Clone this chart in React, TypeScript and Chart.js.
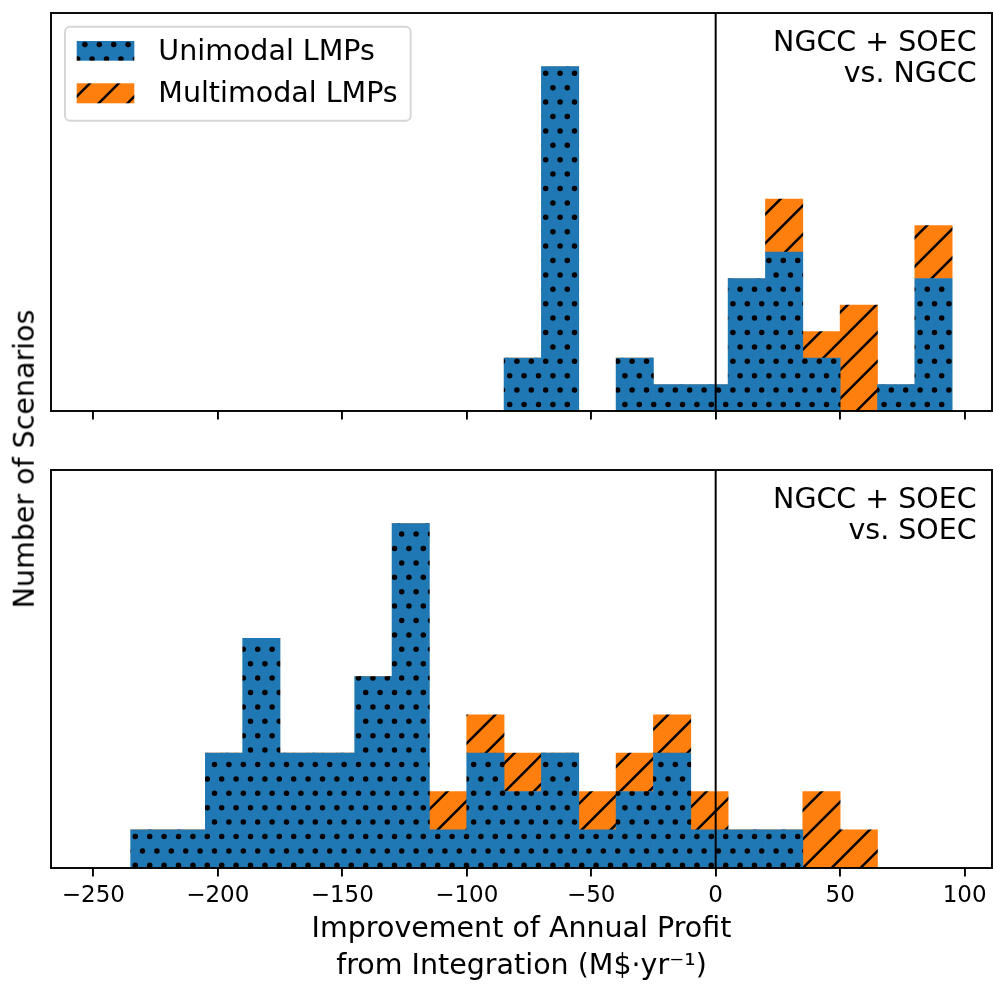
import React, { useEffect, useRef } from "react";
import { Chart, registerables } from "chart.js";

Chart.register(...registerables);

// ---- data ----
const BIN_STARTS = [-235, -220, -205, -190, -175, -160, -145, -130, -115, -100, -85, -70, -55, -40, -25, -10, 5, 20, 35, 50, 65, 80];
const BIN_WIDTH = 15;
const TOP_UNIMODAL = [0, 0, 0, 0, 0, 0, 0, 0, 0, 0, 2, 13, 0, 2, 1, 1, 5, 6, 2, 0, 1, 5];
const TOP_MULTIMODAL = [0, 0, 0, 0, 0, 0, 0, 0, 0, 0, 0, 0, 0, 0, 0, 0, 0, 2, 1, 4, 0, 2];
const BOTTOM_UNIMODAL = [1, 1, 3, 6, 3, 3, 5, 9, 1, 3, 2, 3, 1, 2, 3, 1, 1, 1, 0, 0, 0, 0];
const BOTTOM_MULTIMODAL = [0, 0, 0, 0, 0, 0, 0, 0, 1, 1, 1, 0, 1, 1, 1, 1, 0, 0, 2, 1, 0, 0];
const X_TICKS = [-250, -200, -150, -100, -50, 0, 50, 100];
const X_MIN = -267;
const X_MAX = 111;
const TOP_YMAX = 15.02;
const BOTTOM_YMAX = 10.4;
const SERIES_LABELS = ["Unimodal LMPs", "Multimodal LMPs"];
const TOP_NOTE = ["NGCC + SOEC", "vs. NGCC"];
const BOTTOM_NOTE = ["NGCC + SOEC", "vs. SOEC"];
const X_TITLE = ["Improvement of Annual Profit", "from Integration (M$\u00b7yr\u207b\u00b9)"];
const Y_TITLE = "Number of Scenarios";

// ---- style ----
const FONT = '"DejaVu Sans", "Liberation Sans", sans-serif';
const BLUE = "#1f77b4";
const ORANGE = "#ff7f0e";
const W = 993;

function dotPattern(ctx: CanvasRenderingContext2D, ox: number, oy: number) {
  const T = 144;
  const c = document.createElement("canvas");
  c.width = T;
  c.height = T;
  const g = c.getContext("2d")!;
  g.fillStyle = BLUE;
  g.fillRect(0, 0, T, T);
  g.fillStyle = "#000";
  const sx = 14.4;
  const sy = 28.8;
  const rows = [
    [12.9, 15.7],
    [5.7, 1.3],
  ];
  for (const [bx, by] of rows) {
    const px = (((bx - ox) % sx) + sx) % sx;
    const py = (((by - oy) % sy) + sy) % sy;
    for (let i = -1; i <= 11; i++) {
      for (let j = -1; j <= 6; j++) {
        g.beginPath();
        g.arc(px + i * sx, py + j * sy, 2.75, 0, Math.PI * 2);
        g.fill();
      }
    }
  }
  return ctx.createPattern(c, "repeat")!;
}

function hatchPattern(ctx: CanvasRenderingContext2D, ox: number, oy: number) {
  const T = 144;
  const c = document.createElement("canvas");
  c.width = T;
  c.height = T;
  const g = c.getContext("2d")!;
  g.fillStyle = ORANGE;
  g.fillRect(0, 0, T, T);
  g.strokeStyle = "#000";
  g.lineWidth = 2.5;
  const sp = 28.8;
  const c0 = (((0.4 - ox - oy) % sp) + sp) % sp;
  g.beginPath();
  for (let k = -1; k <= 11; k++) {
    const s = c0 + k * sp;
    g.moveTo(s - 170, 170);
    g.lineTo(s + 20, -20);
  }
  g.stroke();
  return ctx.createPattern(c, "repeat")!;
}

type PanelProps = {
  top: number;
  height: number;
  areaTop: number;
  axisHeight: number;
  unimodal: number[];
  multimodal: number[];
  yMax: number;
  note: string[];
  showLabels: boolean;
  showLegend: boolean;
};

function Panel(p: PanelProps) {
  const ref = useRef<HTMLCanvasElement | null>(null);
  useEffect(() => {
    const canvas = ref.current!;
    const ctx = canvas.getContext("2d")!;
    const dots = dotPattern(ctx, 0, p.top);
    const hatch = hatchPattern(ctx, 0, p.top);

    const overlay = {
      id: "overlay",
      afterDatasetsDraw(chart: any) {
        const { ctx: c, chartArea: a, scales } = chart;
        c.save();
        // zero line
        const x0 = scales.x.getPixelForValue(0);
        c.strokeStyle = "#000";
        c.lineWidth = 2;
        c.beginPath();
        c.moveTo(x0, a.top);
        c.lineTo(x0, a.bottom);
        c.stroke();
        // frame
        c.lineWidth = 1.9;
        c.strokeRect(a.left, a.top, a.right - a.left, a.bottom - a.top);
        // note
        c.fillStyle = "#000";
        c.font = `28.5px ${FONT}`;
        c.textAlign = "right";
        c.textBaseline = "alphabetic";
        c.fillText(p.note[0], 976.7, a.top + 37.7);
        c.fillText(p.note[1], 976.7, a.top + 69.3);
        // legend
        if (p.showLegend) {
          const lx = 65, ly = 26.7, lw = 345.7, lh = 94, r = 5;
          c.beginPath();
          c.moveTo(lx + r, ly);
          c.lineTo(lx + lw - r, ly);
          c.arcTo(lx + lw, ly, lx + lw, ly + r, r);
          c.lineTo(lx + lw, ly + lh - r);
          c.arcTo(lx + lw, ly + lh, lx + lw - r, ly + lh, r);
          c.lineTo(lx + r, ly + lh);
          c.arcTo(lx, ly + lh, lx, ly + lh - r, r);
          c.lineTo(lx, ly + r);
          c.arcTo(lx, ly, lx + r, ly, r);
          c.closePath();
          c.fillStyle = "rgba(255,255,255,0.8)";
          c.fill();
          c.strokeStyle = "#d6d6d6";
          c.lineWidth = 1.9;
          c.stroke();
          c.fillStyle = dots;
          c.fillRect(76.7, 41, 57.6, 19.7);
          c.fillStyle = hatch;
          c.fillRect(76.7, 83.3, 57.6, 20);
          c.fillStyle = "#000";
          c.textAlign = "left";
          c.fillText(SERIES_LABELS[0], 158.3, 60);
          c.fillText(SERIES_LABELS[1], 158.3, 101.7);
        }
        c.restore();
      },
    };

    const chart = new Chart(canvas, {
      type: "bar",
      data: {
        datasets: [
          {
            label: SERIES_LABELS[0],
            data: BIN_STARTS.map((b, i) => ({ x: b + BIN_WIDTH / 2, y: p.unimodal[i] })),
            backgroundColor: dots,
            borderWidth: 0,
            barPercentage: 1,
            categoryPercentage: 1,
          },
          {
            label: SERIES_LABELS[1],
            data: BIN_STARTS.map((b, i) => ({ x: b + BIN_WIDTH / 2, y: p.multimodal[i] })),
            backgroundColor: hatch,
            borderWidth: 0,
            barPercentage: 1,
            categoryPercentage: 1,
          },
        ],
      },
      options: {
        animation: false,
        responsive: false,
        devicePixelRatio: 1,
        events: [],
        layout: { padding: { left: 51, right: 1, top: p.areaTop, bottom: 0 } },
        plugins: {
          legend: { display: false },
          tooltip: { enabled: false },
        },
        scales: {
          x: {
            type: "linear",
            stacked: true,
            min: X_MIN,
            max: X_MAX,
            offset: false,
            afterBuildTicks: (s: any) => {
              s.ticks = X_TICKS.map((v) => ({ value: v }));
            },
            afterFit: (s: any) => {
              s.height = p.axisHeight;
            },
            grid: {
              display: true,
              offset: false,
              drawOnChartArea: false,
              drawTicks: true,
              tickLength: 8.4,
              lineWidth: 1.9,
              color: "#000",
            },
            border: { display: false },
            ticks: {
              display: p.showLabels,
              color: "#000",
              padding: 6,
              maxRotation: 0,
              autoSkip: false,
              font: { family: FONT, size: 23 },
              callback: (v: any) => (v < 0 ? "\u2212" + Math.abs(v) : String(v)),
            },
            title: {
              display: p.showLabels,
              text: X_TITLE,
              color: "#000",
              font: { family: FONT, size: 28.5, lineHeight: 1.288 },
              padding: { top: 0, bottom: 0 },
            },
          },
          y: { display: false, stacked: true, min: 0, max: p.yMax },
        },
      } as any,
      plugins: [overlay],
    });
    return () => chart.destroy();
  }, []);
  return (
    <canvas
      ref={ref}
      width={W}
      height={p.height}
      style={{ position: "absolute", left: 0, top: p.top, width: W, height: p.height, display: "block" }}
    />
  );
}

export default function App() {
  return (
    <div style={{ position: "absolute", left: 0, top: 0, width: W, height: 985, background: "#fff", overflow: "hidden" }}>
      <Panel
        top={0}
        height={440}
        areaTop={13}
        axisHeight={29}
        unimodal={TOP_UNIMODAL}
        multimodal={TOP_MULTIMODAL}
        yMax={TOP_YMAX}
        note={TOP_NOTE}
        showLabels={false}
        showLegend={true}
      />
      <Panel
        top={440}
        height={545}
        areaTop={30}
        axisHeight={117}
        unimodal={BOTTOM_UNIMODAL}
        multimodal={BOTTOM_MULTIMODAL}
        yMax={BOTTOM_YMAX}
        note={BOTTOM_NOTE}
        showLabels={true}
        showLegend={false}
      />
      <div
        style={{
          position: "absolute",
          left: 25,
          top: 459,
          transform: "translate(-50%, -50%) rotate(-90deg)",
          fontFamily: FONT,
          fontSize: "28.5px",
          lineHeight: "28.5px",
          whiteSpace: "nowrap",
          color: "#000",
        }}
      >
        {Y_TITLE}
      </div>
    </div>
  );
}
